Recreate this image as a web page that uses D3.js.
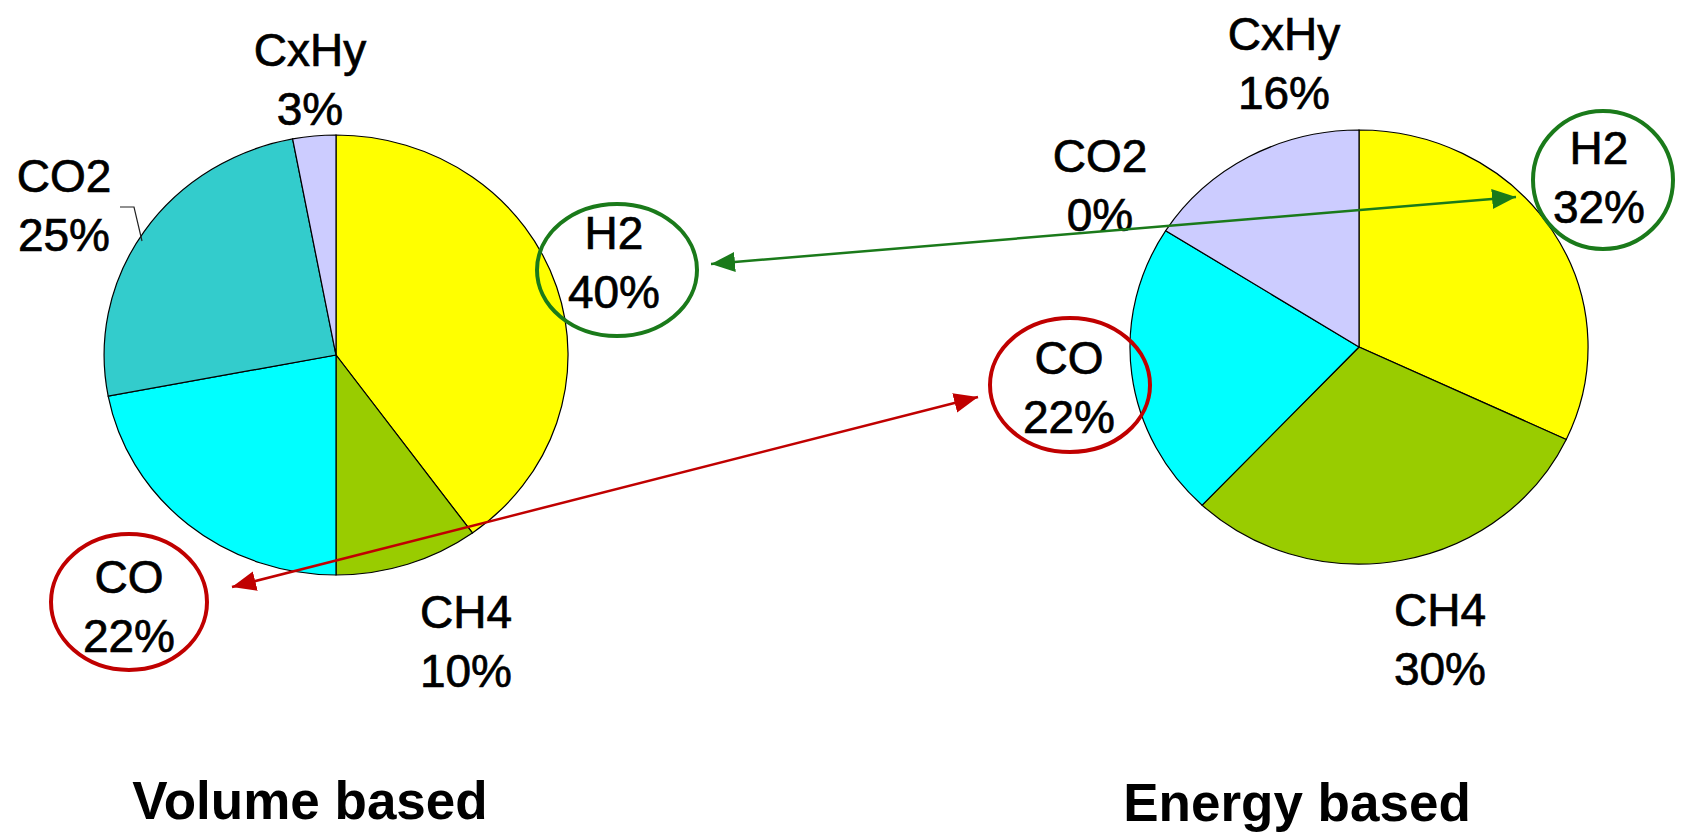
<!DOCTYPE html>
<html>
<head>
<meta charset="utf-8">
<script src="https://cdn.jsdelivr.net/npm/d3@7/dist/d3.min.js"></script>
<style>
  html, body { margin: 0; padding: 0; background: #fff; }
  svg { display: block; }
  text { font-family: "Liberation Sans", Arial, sans-serif; fill: #000; }
</style>
</head>
<body>
<svg id="chart" width="1684" height="832"></svg>
<script>
// Gas composition, clockwise from 12 o'clock
const categories   = ["H2", "CH4", "CO", "CO2", "CxHy"];
const volumeShares = [40, 10, 22, 25, 3];
const energyShares = [32, 30, 22, 0, 16];
const sliceColors  = ["#FFFF00", "#99CC00", "#00FFFF", "#33CCCC", "#CCCCFF"];
const chartTitles  = ["Volume based", "Energy based"];

// Highlighted gases and their pairing arrows
const highlighted  = ["H2", "CO"];
const highlightColors = { H2: "#1a7a1a", CO: "#c00000" };

// Page layout for the two pies (screen positions only)
const layout = [
  {
    cx: 336, cy: 355, rx: 232, ry: 220,
    title: [310, 819],
    labels: { H2: [614, 249], CH4: [466, 628], CO: [129, 593], CO2: [64, 192], CxHy: [310, 66] },
    rings:  { H2: [617, 270, 80, 66], CO: [129, 602, 78, 68] },
    leader: { CO2: [[120, 207], [134, 207], [142, 241]] }
  },
  {
    cx: 1359, cy: 347, rx: 229, ry: 217,
    title: [1297, 821],
    labels: { H2: [1599, 164], CH4: [1440, 626], CO: [1069, 374], CO2: [1100, 172], CxHy: [1284, 50] },
    rings:  { H2: [1603, 180, 70, 69], CO: [1070, 385, 80, 67] },
    leader: {}
  }
];
const arrowEnds = {
  H2: [[711, 264], [1516, 197]],
  CO: [[232, 587], [978, 397]]
};

const svg = d3.select("#chart");
const color = d3.scaleOrdinal().domain(categories).range(sliceColors);
const pie = d3.pie().sort(null).value(d => d.value);
const arc = d3.arc().innerRadius(0).outerRadius(1);
const lineSpacing = 59;

[volumeShares, energyShares].forEach((shares, i) => {
  const L = layout[i];
  const data = categories.map((c, k) => ({ name: c, value: shares[k] }));
  const arcs = pie(data);

  // slices drawn on a unit circle, stretched to the pie's ellipse
  const g = svg.append("g")
    .attr("transform", `translate(${L.cx},${L.cy}) scale(${L.rx},${L.ry})`);
  g.selectAll("path")
    .data(arcs.filter(a => a.data.value > 0))
    .join("path")
    .attr("d", arc)
    .attr("fill", a => color(a.data.name))
    .attr("stroke", "#000")
    .attr("stroke-width", 1.2)
    .attr("vector-effect", "non-scaling-stroke");

  // leader lines
  Object.entries(L.leader).forEach(([name, pts]) => {
    svg.append("path")
      .attr("d", d3.line()(pts))
      .attr("fill", "none")
      .attr("stroke", "#222")
      .attr("stroke-width", 1.2);
  });

  // slice labels: name over percentage
  arcs.forEach(a => {
    const [x, y] = L.labels[a.data.name];
    const t = svg.append("text")
      .attr("text-anchor", "middle")
      .attr("font-size", 46)
      .attr("stroke", "#000")
      .attr("stroke-width", 0.7);
    t.append("tspan").attr("x", x).attr("y", y).text(a.data.name);
    t.append("tspan").attr("x", x).attr("y", y + lineSpacing).text(a.data.value + "%");
  });

  // highlight rings around H2 and CO labels
  highlighted.forEach(name => {
    const [x, y, rx, ry] = L.rings[name];
    svg.append("ellipse")
      .attr("cx", x).attr("cy", y).attr("rx", rx).attr("ry", ry)
      .attr("fill", "none")
      .attr("stroke", highlightColors[name])
      .attr("stroke-width", 4);
  });

  // chart title
  svg.append("text")
    .attr("x", L.title[0]).attr("y", L.title[1])
    .attr("text-anchor", "middle")
    .attr("font-size", 53)
    .attr("font-weight", "bold")
    .text(chartTitles[i]);
});

// double-headed arrows linking the same gas in both pies
const defs = svg.append("defs");
highlighted.forEach(name => {
  defs.append("marker")
    .attr("id", "head-" + name)
    .attr("viewBox", "0 0 24 20")
    .attr("refX", 24).attr("refY", 10)
    .attr("markerWidth", 24).attr("markerHeight", 20)
    .attr("markerUnits", "userSpaceOnUse")
    .attr("orient", "auto-start-reverse")
    .append("path")
    .attr("d", "M0,0 L24,10 L0,20 Z")
    .attr("fill", highlightColors[name]);

  const [p0, p1] = arrowEnds[name];
  svg.append("line")
    .attr("x1", p0[0]).attr("y1", p0[1])
    .attr("x2", p1[0]).attr("y2", p1[1])
    .attr("stroke", highlightColors[name])
    .attr("stroke-width", 2.5)
    .attr("marker-start", `url(#head-${name})`)
    .attr("marker-end", `url(#head-${name})`);
});
</script>
</body>
</html>
